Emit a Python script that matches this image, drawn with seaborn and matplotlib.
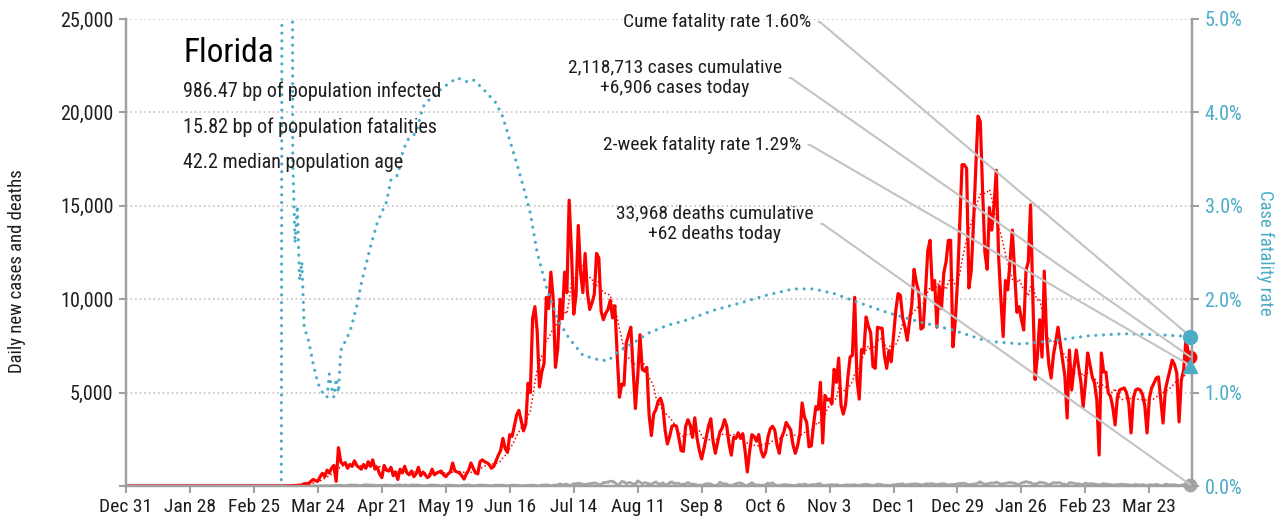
import numpy as np
import pandas as pd
import matplotlib
matplotlib.use("Agg")
import matplotlib.pyplot as plt
import matplotlib.dates as mdates
from matplotlib import font_manager as fm
import seaborn as sns

# ---------------- data ----------------
state = "Florida"
info_lines = ["986.47 bp of population infected",
              "15.82 bp of population fatalities",
              "42.2 median population age"]

cases_2020_03 = [2, 0, 1, 0, 2, 3, 4, 6, 3, 6, 5, 19, 20, 26, 36, 46, 56, 119, 130, 140,
                 255, 350, 283, 265, 500, 683, 500, 850, 700, 950, 1100]
cases_2020_04 = [250, 2050, 1300, 1150, 1250, 950, 1150, 1050, 1350, 1100, 1000, 900, 1150, 950, 1300,
                 1050, 1400, 900, 1000, 650, 450, 1100, 850, 800, 1000, 550, 750, 350, 900, 700]
cases_2020_05 = [1050, 700, 600, 800, 500, 650, 1000, 550, 750, 600, 450, 550, 900, 600, 700, 750,
                 800, 600, 500, 650, 750, 1230, 800, 750, 700, 550, 370, 650, 850, 1230, 950]
cases_2020_06 = [700, 650, 1300, 1400, 1300, 1250, 1150, 950, 1050, 1350, 1650, 1900, 2550, 2000, 1800,
                 2750, 2650, 3200, 3800, 4050, 3500, 2950, 3300, 5500, 5000, 8950, 9600, 8300, 5300, 6100]
cases_2020_07 = [6550, 10100, 9500, 11450, 10050, 6350, 7350, 10000, 8950, 11450, 10350, 15300, 12600,
                 9200, 10200, 13950, 11450, 10350, 12450, 10350, 9450, 9800, 10250, 12450, 12200, 9350,
                 8900, 9250, 9450, 9950, 9000]
cases_2020_08 = [9650, 7100, 4750, 5450, 5400, 7650, 8100, 8500, 6250, 4150, 5850, 8100, 6250, 6150,
                 6350, 3800, 2700, 3850, 4100, 4550, 4700, 4300, 3000, 2250, 2650, 3200, 3250, 3200,
                 2600, 1900, 1850]
cases_2020_09 = [3200, 3550, 3250, 2600, 3650, 2550, 1900, 1450, 2000, 2600, 3200, 3600, 2400, 1750,
                 2350, 2900, 3100, 3550, 3200, 2250, 1650, 2600, 2550, 2850, 2550, 2800, 1900, 750,
                 1850, 2750]
cases_2020_10 = [2650, 2400, 2750, 1900, 1550, 1800, 2600, 3050, 3200, 3000, 2200, 1750, 2600, 2900,
                 3400, 3200, 3000, 2200, 1750, 2150, 2800, 4450, 3700, 3400, 2100, 2150, 3300, 4250,
                 4100, 5550, 2300]
cases_2020_11 = [4850, 4600, 4650, 4400, 6250, 5550, 6850, 4350, 3850, 4350, 5800, 6900, 7000, 10100,
                 5700, 4650, 7300, 7150, 9050, 8550, 8200, 6400, 6300, 8500, 8450, 8450, 7000, 6300,
                 7250, 6650]
cases_2020_12 = [8000, 9400, 10300, 10200, 9000, 8500, 7800, 8800, 9700, 11600, 10900, 10400, 8400,
                 8500, 10400, 12600, 13150, 10500, 11000, 8500, 10700, 9500, 11400, 12000, 13150, 13150,
                 7450, 8800, 10900, 14000, 17200]
cases_2021_01 = [17200, 17000, 10600, 11500, 14000, 17000, 19800, 19500, 15800, 12500, 11600, 14900,
                 13700, 15000, 16900, 12300, 10000, 8000, 11000, 10500, 12000, 13700, 11500, 9300, 9600,
                 8900, 8350, 11550, 12000, 15050, 10000]
cases_2021_02 = [5700, 7000, 8900, 6900, 11500, 8000, 6500, 5780, 7000, 7700, 8500, 7600, 6740, 5900,
                 3640, 7280, 5140, 6300, 7280, 6400, 5600, 4230, 5500, 7120, 6500, 5840, 5510, 4600]
cases_2021_03 = [1660, 7120, 6100, 6100, 4980, 4800, 4200, 3270, 4760, 5140, 5200, 5250, 5000, 4400,
                 2840, 4710, 5140, 5200, 5140, 4900, 4300, 2840, 4700, 5250, 5500, 5780, 5840, 4600,
                 3370, 5140, 5700]
cases_2021_04 = [6200, 6740, 6500, 6050, 3430, 5670, 6200, 7820, 7170, 6906]

deaths_2020_03 = [0, 0, 0, 0, 0, 2, 0, 0, 0, 0, 0, 0, 1, 0, 2, 1, 0, 1, 2, 2, 3, 5, 4, 5, 8, 7, 13,
                  10, 7, 20, 22]
deaths_2020_04 = [28, 34, 28, 24, 18, 40, 57, 51, 54, 46, 26, 25, 48, 72, 48, 57, 45, 44, 23, 28, 46,
                  39, 62, 38, 39, 15, 51, 55, 60, 30]
deaths_2020_05 = [55, 42, 18, 65, 45, 57, 47, 36, 20, 10, 40, 48, 55, 45, 40, 32, 7, 18, 50, 42, 46,
                  41, 23, 10, 7, 28, 46, 45, 58, 35, 18]
deaths_2020_06 = [10, 50, 43, 48, 45, 37, 11, 10, 36, 47, 46, 39, 44, 11, 15, 28, 43, 46, 43, 30, 20,
                  8, 39, 25, 44, 40, 40, 18, 4, 58]
deaths_2020_07 = [45, 67, 50, 18, 31, 48, 63, 120, 49, 93, 95, 45, 35, 132, 112, 156, 128, 90, 90, 92,
                  134, 139, 174, 135, 77, 78, 186, 191, 216, 253, 257]
deaths_2020_08 = [179, 62, 73, 245, 225, 120, 182, 182, 77, 93, 277, 212, 119, 180, 154, 107, 87, 174,
                  219, 119, 93, 176, 72, 39, 186, 223, 121, 145, 149, 52, 103]
deaths_2020_09 = [105, 188, 111, 106, 98, 33, 40, 19, 80, 120, 116, 114, 37, 31, 58, 206, 122, 120,
                  107, 22, 10, 71, 118, 157, 171, 107, 8, 11, 105, 178]
deaths_2020_10 = [93, 42, 60, 21, 44, 67, 161, 105, 178, 66, 2, 14, 50, 75, 69, 54, 50, 21, 29, 65,
                  80, 49, 110, 71, 29, 78, 70, 73, 119, 118, 25]
deaths_2020_11 = [22, 50, 53, 81, 46, 80, 41, 13, 42, 56, 55, 45, 65, 67, 41, 44, 49, 86, 91, 77, 58,
                  22, 52, 103, 72, 80, 21, 43, 23, 35]
deaths_2020_12 = [71, 68, 100, 95, 123, 53, 63, 90, 100, 105, 115, 87, 72, 55, 116, 116, 104, 129, 91,
                  63, 106, 109, 123, 97, 37, 82, 79, 98, 109, 139, 132]
deaths_2021_01 = [149, 106, 59, 79, 107, 111, 162, 227, 141, 91, 111, 139, 167, 155, 206, 156, 93,
                  119, 139, 169, 191, 164, 154, 88, 83, 164, 195, 241, 198, 190, 99]
deaths_2021_02 = [78, 135, 204, 187, 172, 116, 69, 104, 186, 157, 181, 171, 106, 79, 59, 176, 170, 147,
                  110, 120, 95, 55, 155, 128, 113, 128, 101, 72]
deaths_2021_03 = [50, 96, 122, 101, 82, 78, 44, 62, 66, 88, 102, 69, 75, 63, 40, 54, 88, 61, 50, 78,
                  47, 24, 66, 71, 49, 96, 52, 22, 29, 99, 86]
deaths_2021_04 = [55, 65, 62, 48, 30, 50, 70, 52, 63, 62]

# cumulative case fatality rate (%)
cfr_dates = ["2019-12-31", "2020-03-08", "2020-03-09", "2020-03-12", "2020-03-13", "2020-03-14",
             "2020-03-15", "2020-03-16", "2020-03-17", "2020-03-18", "2020-03-20", "2020-03-22",
             "2020-03-24", "2020-03-26", "2020-03-28", "2020-03-29", "2020-03-30", "2020-03-31",
             "2020-04-01", "2020-04-02", "2020-04-03", "2020-04-05", "2020-04-07", "2020-04-10",
             "2020-04-12", "2020-04-16", "2020-04-19", "2020-04-23", "2020-04-25", "2020-04-28",
             "2020-04-30", "2020-05-02", "2020-05-06", "2020-05-09", "2020-05-13", "2020-05-18",
             "2020-05-24", "2020-05-28", "2020-05-31", "2020-06-04", "2020-06-10", "2020-06-13",
             "2020-06-16", "2020-06-19", "2020-06-22", "2020-06-25", "2020-06-28", "2020-07-02",
             "2020-07-07", "2020-07-12", "2020-07-18", "2020-07-25", "2020-07-29", "2020-08-02",
             "2020-08-09", "2020-08-16", "2020-08-24", "2020-09-02", "2020-09-13", "2020-09-25",
             "2020-10-06", "2020-10-18", "2020-10-27", "2020-11-05", "2020-11-15", "2020-11-28",
             "2020-12-12", "2020-12-27", "2021-01-11", "2021-01-26", "2021-02-10", "2021-02-25",
             "2021-03-12", "2021-03-27", "2021-04-10"]
cfr_values = [0.0, 0.0, 20.0, 20.0, 3.5, 2.6, 3.0, 2.2, 2.4, 1.7, 1.55, 1.3, 1.1, 1.0, 0.95, 1.2,
              1.05, 0.95, 1.15, 1.0, 1.45, 1.55, 1.65, 1.92, 2.17, 2.56, 2.82, 3.04, 3.28, 3.33,
              3.56, 3.70, 3.78, 4.06, 4.17, 4.27, 4.37, 4.33, 4.35, 4.26, 4.10, 3.95, 3.70, 3.46,
              3.20, 2.92, 2.50, 2.13, 1.78, 1.58, 1.40, 1.35, 1.34, 1.43, 1.53, 1.64, 1.72, 1.78,
              1.88, 1.96, 2.04, 2.11, 2.11, 2.06, 1.97, 1.86, 1.76, 1.67, 1.55, 1.52, 1.56, 1.61,
              1.63, 1.62, 1.60]

cume_cfr = 1.60
two_week_cfr = 1.29
cases_today = 6906
deaths_today = 62
ann_cume = "Cume fatality rate 1.60%"
ann_cases = "2,118,713 cases cumulative\n+6,906 cases today"
ann_2wk = "2-week fatality rate 1.29%"
ann_deaths = "33,968 deaths cumulative\n+62 deaths today"

y_left_ticks = [0, 5000, 10000, 15000, 20000, 25000]
y_left_labels = ["", "5,000", "10,000", "15,000", "20,000", "25,000"]
y_right_ticks = [0, 1, 2, 3, 4, 5]
y_right_labels = ["0.0%", "1.0%", "2.0%", "3.0%", "4.0%", "5.0%"]

# ---------------- assemble ----------------
case_months = [("2020-03-01", cases_2020_03), ("2020-04-01", cases_2020_04), ("2020-05-01", cases_2020_05),
               ("2020-06-01", cases_2020_06), ("2020-07-01", cases_2020_07), ("2020-08-01", cases_2020_08),
               ("2020-09-01", cases_2020_09), ("2020-10-01", cases_2020_10), ("2020-11-01", cases_2020_11),
               ("2020-12-01", cases_2020_12), ("2021-01-01", cases_2021_01), ("2021-02-01", cases_2021_02),
               ("2021-03-01", cases_2021_03), ("2021-04-01", cases_2021_04)]
death_months = [deaths_2020_03, deaths_2020_04, deaths_2020_05, deaths_2020_06, deaths_2020_07,
                deaths_2020_08, deaths_2020_09, deaths_2020_10, deaths_2020_11, deaths_2020_12,
                deaths_2021_01, deaths_2021_02, deaths_2021_03, deaths_2021_04]

pre = pd.date_range("2019-12-31", "2020-02-29")
frames = [pd.DataFrame({"date": pre, "cases": 0.0, "deaths": 0.0})]
for (start, c), d in zip(case_months, death_months):
    dr = pd.date_range(start, periods=len(c))
    frames.append(pd.DataFrame({"date": dr, "cases": c, "deaths": d[:len(c)]}))
df = pd.concat(frames, ignore_index=True)
df["cases_avg"] = df["cases"].rolling(7, min_periods=1).mean()
df["deaths_avg"] = df["deaths"].rolling(7, min_periods=1).mean()
cfr = pd.DataFrame({"date": pd.to_datetime(cfr_dates), "cfr": cfr_values})

last_date = df["date"].iloc[-1]

# ---------------- style ----------------
sns.set_theme(style="white")
avail = {f.name for f in fm.fontManager.ttflist}
COND = "Liberation Sans"
for cand in ["Roboto Condensed", "Liberation Sans Narrow", "Noto Sans Condensed", "Open Sans Condensed"]:
    if cand in avail:
        COND = cand
        break
plt.rcParams["font.family"] = [COND, "DejaVu Sans"]

BLUE = "#4bacc6"
RED = "#ff0000"
GRAY = "#a6a6a6"
TXT = "#1e1e1e"

W, H = 1278, 525
fig = plt.figure(figsize=(W / 100, H / 100), dpi=100)
ax = fig.add_axes([126 / W, (H - 486) / H, (1192 - 126) / W, (486 - 19) / H])
ax2 = ax.twinx()

sns.lineplot(data=df, x="date", y="deaths", ax=ax, color=GRAY, linewidth=2.0, errorbar=None)
sns.lineplot(data=df, x="date", y="deaths_avg", ax=ax, color=GRAY, linewidth=1.2,
             linestyle=(0, (0.01, 2.2)), dash_capstyle="round", errorbar=None)
sns.lineplot(data=df, x="date", y="cases", ax=ax, color=RED, linewidth=2.3, errorbar=None)
sns.lineplot(data=df, x="date", y="cases_avg", ax=ax, color=RED, linewidth=1.3,
             linestyle=(0, (0.01, 2.2)), dash_capstyle="round", errorbar=None)
sns.lineplot(data=cfr, x="date", y="cfr", ax=ax2, color=BLUE, linewidth=2.3,
             linestyle=(0, (0.01, 2.4)), dash_capstyle="round", errorbar=None)

x0 = pd.Timestamp("2019-12-31")
ax.set_xlim(x0, last_date + pd.Timedelta(hours=16))
ax.set_ylim(0, 25000)
ax2.set_ylim(0, 5)

xt = pd.date_range(x0, periods=17, freq="28D")
ax.set_xticks(xt)
ax.set_xticklabels([f"{d:%b} {d.day}" for d in xt])
ax.set_yticks(y_left_ticks)
ax.set_yticklabels(y_left_labels)
ax2.set_yticks(y_right_ticks)
ax2.set_yticklabels(y_right_labels)

ax.yaxis.grid(True, linestyle=(0, (1, 2)), color="#b8b8b8", linewidth=1.1)
ax.set_axisbelow(True)
ax.xaxis.grid(False)

for a in (ax, ax2):
    a.spines["top"].set_visible(False)
    for s in ("left", "right", "bottom"):
        a.spines[s].set_color("#a0a0a0")
        a.spines[s].set_linewidth(1.6)
ax.tick_params(axis="x", direction="out", length=5, width=1.5, color="#a0a0a0",
               labelsize=14, labelcolor=TXT, pad=4, bottom=True)
ax.tick_params(axis="y", direction="out", length=5, width=1.5, color="#a0a0a0",
               labelsize=14.5, labelcolor=TXT, pad=4, left=True)
ax2.tick_params(axis="y", direction="out", length=5, width=1.5, color="#a0a0a0",
                labelsize=14.5, labelcolor=BLUE, pad=4, right=True)

ax.set_xlabel("")
ax.set_ylabel("Daily new cases and deaths", fontsize=13.5, color=TXT)
ax.yaxis.set_label_coords(-0.094, 0.46)
ax2.set_ylabel("Case fatality rate", fontsize=13.5, color=BLUE, rotation=270, va="bottom")
ax2.yaxis.set_label_coords(1.060, 0.5)

# title block
fig.text(183 / W, (H - 62) / H, state, fontsize=24, color="black", ha="left", va="baseline")
for txt, yb in zip(info_lines, [97, 133, 168]):
    fig.text(183 / W, (H - yb) / H, txt, fontsize=14.5, color=TXT, ha="left", va="baseline")

# end markers
xl = mdates.date2num(last_date)
ax2.plot([xl], [two_week_cfr], marker="^", ms=10, color=BLUE, clip_on=False, zorder=6)
ax.plot([xl], [cases_today], marker="o", ms=9, color=RED, clip_on=False, zorder=6)
ax.plot([xl], [deaths_today], marker="o", ms=9, color=GRAY, clip_on=False, zorder=6)
ax2.plot([xl], [cume_cfr], marker="o", ms=10, color=BLUE, clip_on=False, zorder=7)

lead = dict(arrowstyle="-", color="#c3c3c3", lw=1.5, shrinkA=3, shrinkB=0, relpos=(1, 0.5),
            connectionstyle="arc,angleA=0,angleB=0,armA=9,armB=0,rad=0")
fs = 14
ax2.annotate(ann_cume, xy=(xl, cume_cfr), xycoords=ax2.transData,
             xytext=(811, H - 22), textcoords="figure pixels", ha="right", va="center",
             fontsize=fs, color=TXT, arrowprops=lead, annotation_clip=False, zorder=5)
ax2.annotate(ann_cases, xy=(xl, cases_today), xycoords=ax.transData,
             xytext=(675, H - 78), textcoords="figure pixels", ha="center", va="center",
             multialignment="center", linespacing=1.2,
             fontsize=fs, color=TXT, arrowprops=lead, annotation_clip=False, zorder=5)
ax2.annotate(ann_2wk, xy=(xl, two_week_cfr), xycoords=ax2.transData,
             xytext=(801, H - 145), textcoords="figure pixels", ha="right", va="center",
             fontsize=fs, color=TXT, arrowprops=lead, annotation_clip=False, zorder=5)
ax2.annotate(ann_deaths, xy=(xl, deaths_today), xycoords=ax.transData,
             xytext=(715, H - 224), textcoords="figure pixels", ha="center", va="center",
             multialignment="center", linespacing=1.2,
             fontsize=fs, color=TXT, arrowprops=lead, annotation_clip=False, zorder=5)

fig.savefig("out.png", dpi=100)
